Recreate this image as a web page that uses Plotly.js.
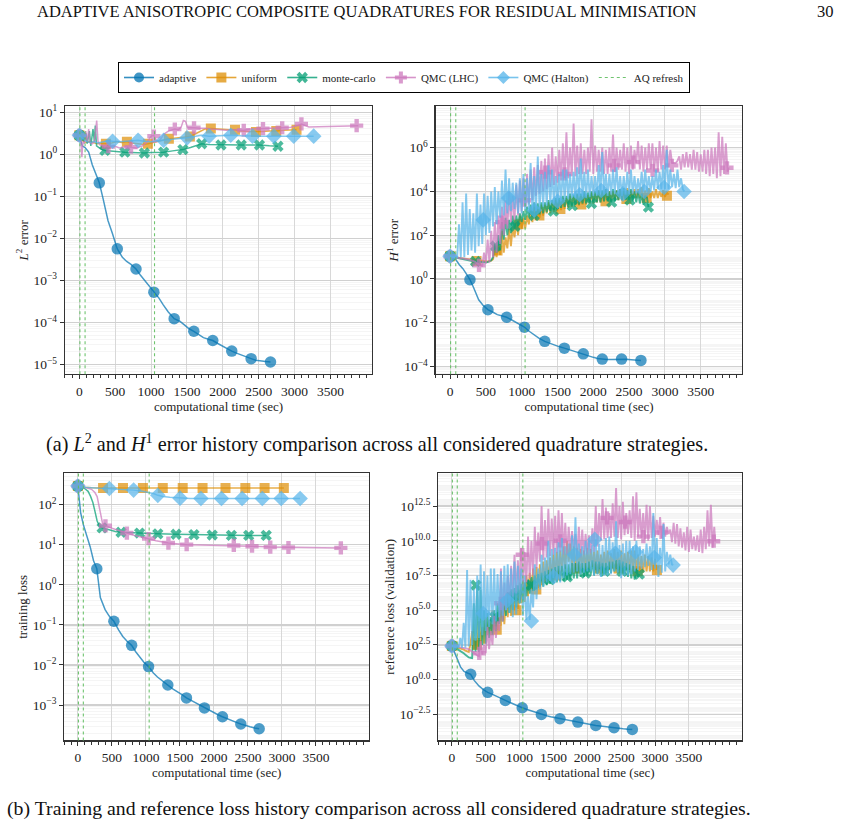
<!DOCTYPE html>
<html><head><meta charset="utf-8">
<script src="https://cdn.plot.ly/plotly-3.0.1.min.js"></script>
<style>html,body{margin:0;padding:0;background:#fff}#chart{width:846px;height:828px}</style>
</head><body><div id="chart"></div>
<script>
// ================= DATA (values stored as log10 of the plotted quantity) =================
const seriesNames = ['adaptive', 'uniform', 'monte-carlo', 'QMC (LHC)', 'QMC (Halton)'];
const refreshName = 'AQ refresh';
const refreshTimes = [8, 80, 1048];
const xTickVals = [0, 500, 1000, 1500, 2000, 2500, 3000, 3500];

// ---- adaptive (same time stamps in all four panels) ----
const tAdaptive = [0,40,80,130,180,230,278,330,400,460,529,600,660,720,790,850,910,970,1039,1110,1170,1240,1322,1400,1460,1530,1596,1660,1730,1800,1860,1930,2000,2060,2125,2190,2260,2330,2395,2460,2530,2600,2665];
const adaptiveMarkIdx = [0,6,10,14,18,22,26,30,34,38,42];
const l2Adaptive = [0.45,0.2,0.16,0.05,-0.25,-0.45,-0.68,-1.05,-1.58,-1.88,-2.25,-2.45,-2.55,-2.62,-2.73,-2.87,-3.0,-3.13,-3.28,-3.42,-3.58,-3.75,-3.91,-3.97,-4.05,-4.15,-4.21,-4.28,-4.36,-4.4,-4.43,-4.5,-4.57,-4.62,-4.68,-4.73,-4.78,-4.82,-4.86,-4.9,-4.92,-4.93,-4.94];
const h1Adaptive = [1.04,0.97,0.89,0.65,0.47,0.22,-0.03,-0.4,-0.95,-1.2,-1.4,-1.52,-1.63,-1.68,-1.75,-1.85,-1.97,-2.08,-2.2,-2.4,-2.55,-2.7,-2.85,-2.95,-3.02,-3.1,-3.16,-3.23,-3.31,-3.38,-3.42,-3.5,-3.58,-3.63,-3.66,-3.68,-3.68,-3.67,-3.66,-3.67,-3.69,-3.71,-3.72];
const trAdaptive = [2.46,1.8,1.5,1.25,0.95,0.6,0.4,-0.32,-0.62,-0.78,-0.91,-1.13,-1.29,-1.4,-1.51,-1.67,-1.8,-1.93,-2.04,-2.2,-2.3,-2.4,-2.5,-2.6,-2.66,-2.74,-2.82,-2.88,-2.95,-3.01,-3.07,-3.13,-3.19,-3.24,-3.29,-3.34,-3.39,-3.43,-3.47,-3.51,-3.54,-3.57,-3.59];
const refAdaptive = [2.43,2.0,1.5,0.9,0.6,0.48,0.39,-0.05,-0.45,-0.7,-0.91,-1.06,-1.18,-1.33,-1.49,-1.62,-1.76,-1.88,-2.02,-2.14,-2.24,-2.37,-2.5,-2.6,-2.67,-2.74,-2.81,-2.87,-2.94,-3.0,-3.05,-3.11,-3.18,-3.23,-3.29,-3.33,-3.38,-3.42,-3.46,-3.49,-3.53,-3.56,-3.58];

// ---- marker time stamps of the other strategies ----
const mtUniform = [0,370,663,956,1248,1541,1833,2170,2462,2745,3028];
const mtMC      = [0,356,634,907,1175,1443,1706,1975,2257,2511,2769];
const mtLHC     = [0,405,720,1039,1331,1599,2292,2560,2828,3096,3866];
const mtHalton  = [0,463,819,1175,1502,1809,2111,2414,2711,2989,3267];

// ---- L2 error panel ----
const l2UniformT = [0,30,60,100,150,200,250,300,370,450,520,590,663,730,800,880,956,1030,1100,1170,1248,1320,1400,1470,1541,1600,1680,1750,1833,1900,2000,2100,2170,2250,2350,2462,2550,2650,2745,2850,2950,3028];
const l2UniformV = [0.45,0.35,0.3,0.28,0.3,0.27,0.25,0.26,0.25,0.27,0.3,0.28,0.3,0.27,0.25,0.24,0.25,0.28,0.3,0.34,0.37,0.38,0.4,0.41,0.42,0.47,0.55,0.6,0.61,0.6,0.59,0.58,0.58,0.55,0.54,0.53,0.54,0.55,0.55,0.57,0.58,0.58];
const l2UniformM = [0.45,0.25,0.3,0.25,0.37,0.42,0.61,0.58,0.53,0.55,0.58];
const l2MCT = [0,40,70,90,110,140,160,190,210,222,240,270,300,356,450,550,634,750,907,1000,1100,1175,1300,1443,1550,1650,1706,1800,1975,2100,2257,2400,2511,2650,2769];
const l2MCV = [0.45,0.4,0.3,0.5,0.25,0.55,0.2,0.6,0.3,0.68,0.2,0.15,0.12,0.09,0.07,0.06,0.05,0.04,0.03,0.04,0.045,0.05,0.08,0.11,0.16,0.22,0.25,0.23,0.22,0.22,0.22,0.22,0.22,0.2,0.19];
const l2MCM = [0.45,0.09,0.05,0.03,0.05,0.11,0.25,0.22,0.22,0.22,0.19];
const l2LHCT = [0,20,35,50,70,90,110,130,150,180,210,242,260,290,330,405,480,560,640,720,800,880,950,1000,1039,1080,1130,1180,1240,1290,1331,1380,1420,1450,1480,1510,1560,1599,1680,1760,1840,1950,2050,2150,2292,2400,2560,2700,2828,2950,3040,3096,3200,3400,3600,3866,3890];
const l2LHCV = [0.45,0.3,-0.07,0.3,0.25,0.55,0.3,0.6,0.28,0.25,0.3,0.8,0.3,0.22,0.2,0.18,0.2,0.15,0.18,0.17,0.15,0.2,0.3,0.43,0.45,0.3,0.35,0.48,0.55,0.58,0.6,0.58,0.65,0.8,0.78,0.63,0.64,0.63,0.62,0.62,0.6,0.58,0.57,0.58,0.57,0.6,0.61,0.62,0.63,0.64,0.68,0.72,0.65,0.66,0.67,0.68,0.68];
const l2LHCM = [0.45,0.18,0.17,0.43,0.6,0.63,0.57,0.61,0.63,0.72,0.68];
const l2HaltonT = [0,30,60,100,150,200,260,330,400,463,550,650,750,819,900,1000,1100,1175,1260,1350,1420,1502,1600,1700,1809,1900,2000,2111,2250,2414,2550,2711,2850,2989,3100,3267];
const l2HaltonV = [0.45,0.4,0.35,0.3,0.28,0.3,0.27,0.3,0.32,0.31,0.3,0.31,0.32,0.33,0.31,0.3,0.32,0.33,0.35,0.37,0.38,0.39,0.42,0.45,0.43,0.44,0.45,0.45,0.44,0.43,0.43,0.43,0.43,0.43,0.43,0.43];
const l2HaltonM = [0.45,0.31,0.33,0.33,0.39,0.43,0.45,0.43,0.43,0.43,0.43];

// ---- noisy histories (H1 error and reference loss share the 25 s time stamps) ----
const tGrid = [0,25,50,75,100,125,150,175,200,225,250,275,300,325,350,375,400,425,450,475,500,525,550,575,600,625,650,675,700,725,750,775,800,825,850,875,900,925,950,975,1000,1025,1050,1075,1100,1125,1150,1175,1200,1225,1250,1275,1300,1325,1350,1375,1400,1425,1450,1475,1500,1525,1550,1575,1600,1625,1650,1675,1700,1725,1750,1775,1800,1825,1850,1875,1900,1925,1950,1975,2000,2025,2050,2075,2100,2125,2150,2175,2200,2225,2250,2275,2300,2325,2350,2375,2400,2425,2450,2475,2500,2525,2550,2575,2600,2625,2650,2675,2700,2725,2750,2775,2800,2825,2850,2875,2900,2925,2950,2975,3000,3025,3050,3075,3100,3125,3150,3175,3200,3225,3250,3275,3300,3325,3350,3375,3400,3425,3450,3475,3500,3525,3550,3575,3600,3625,3650,3675,3700,3725,3750,3775,3800,3825,3850,3875];
const tUniformN = tGrid.slice(0, 123);                 // 0 … 3050
const tMCN      = tGrid.slice(0, 111).concat([2770]);  // 0 … 2750, 2770
const tLHCN     = tGrid.slice(0, 156).concat([3890]);  // 0 … 3875, 3890
const tHaltonN  = tGrid.slice(0, 131).concat([3270]);  // 0 … 3250, 3270

const h1UniformV = [
 1.04,1.02,1.0,0.99, 0.98,0.96,0.95,0.94, 0.93,0.91,0.9,0.89, 0.88,0.86,0.85,0.84, 0.82,0.81,0.8,0.8,
 0.8,0.8,0.82,0.84, 0.9,1.3,1.0,1.6, 1.1,2.2,1.2,1.9, 1.4,2.3,1.5,2.4, 1.9,2.6,2.0,2.9,
 2.3,2.8,2.3,2.9, 2.5,3.1,2.6,3.3, 2.7,3.2,2.8,3.4, 2.9,3.4,3.0,3.5, 3.0,3.5,3.05,3.6,
 3.1,3.6,3.15,3.7, 3.2,3.7,3.25,3.8, 3.3,3.75,3.3,3.85, 3.35,3.8,3.4,3.9, 3.4,3.85,3.45,3.95,
 3.45,3.9,3.5,4.05, 3.5,3.95,3.55,4.1, 3.55,4.0,3.55,4.0, 3.6,4.05,3.6,4.1, 3.6,4.0,3.65,4.15,
 3.65,4.05,3.7,4.1, 3.7,4.1,3.7,4.2, 3.65,4.05,3.7,4.15, 3.7,4.0,3.7,4.1, 3.7,4.0,3.75,4.05,
 3.75,3.95,3.85];
const h1MCV = [
 1.04,1.02,1.0,0.98, 0.97,0.96,0.94,0.92, 0.9,0.88,0.86,0.84, 0.82,0.81,0.8,0.79, 0.78,0.77,0.76,0.76,
 0.76,0.77,0.8,0.85, 1.0,1.6,1.2,2.0, 1.3,2.6,1.8,2.8, 2.0,2.7,2.1,2.9, 2.3,2.9,2.4,3.0,
 2.6,3.1,2.7,3.3, 2.8,3.4,2.85,3.5, 2.9,3.45,2.95,3.5, 3.0,3.5,3.05,3.6, 3.1,3.6,3.15,3.7,
 3.2,3.7,3.25,3.8, 3.3,3.8,3.3,3.9, 3.35,3.85,3.4,3.9, 3.4,3.9,3.45,4.0, 3.45,3.95,3.5,4.0,
 3.5,4.0,3.5,4.05, 3.5,4.05,3.55,4.1, 3.55,4.0,3.5,4.1, 3.55,4.05,3.6,4.1, 3.6,4.15,3.6,4.05,
 3.6,4.1,3.55,4.0, 3.5,4.0,3.45,3.9, 3.4,3.8,3.7, 3.28];
const h1LHCV = [
 1.04,1.02,1.0,0.99, 0.97,0.96,0.95,0.94, 0.93,0.92,0.9,0.88, 0.85,0.82,0.78,0.72, 0.65,0.62,0.6,1.2,
 0.7,1.8,0.75,2.2, 1.0,2.6,1.2,2.9, 1.6,3.3,2.0,3.6, 2.3,4.0,2.6,3.8, 2.7,4.3,2.9,4.5,
 3.1,4.6,3.3,4.8, 3.4,5.0,3.6,5.1, 3.8,5.2,3.9,5.4, 4.0,5.5,4.1,5.7, 4.2,6.0,4.3,5.6,
 4.4,5.9,4.5,6.2, 4.6,6.7,4.6,6.0, 4.7,7.1,4.7,6.1, 4.8,6.2,4.8,5.9, 4.8,6.0,4.9,7.3,
 4.8,6.1,4.9,5.9, 4.9,6.0,4.8,5.9, 4.8,6.0,4.9,6.6, 4.9,6.0,5.0,5.9, 5.0,6.2,4.9,6.0,
 4.8,6.1,5.0,5.9, 5.3,6.3,5.0,6.1, 4.9,6.0,5.0,6.2, 5.0,6.2,4.9,6.0, 4.9,6.3,5.0,6.1,
 5.0,6.1,5.1,5.9, 5.3,5.3,5.3,5.4, 5.6,5.0,5.7,5.1, 5.8,5.1,5.7,5.0, 5.9,5.0,5.8,4.9,
 5.7,4.9,5.9,4.8, 5.9,4.7,6.0,4.8, 6.0,4.6,6.7,4.7, 6.5,4.8,6.2,4.9, 5.1];
const h1HaltonV = [
 1.04,1.02,1.0,0.99, 0.98,2.5,1.0,3.5, 1.0,3.9,1.1,3.2, 1.3,3.0,1.2,3.9, 1.5,3.4,1.6,3.9,
 2.0,3.8,2.1,4.0, 2.4,4.2,2.5,4.0, 2.8,4.5,2.9,5.0, 3.0,4.6,3.1,4.4, 3.2,4.4,3.0,4.6,
 3.0,4.8,3.1,4.6, 3.2,5.3,3.1,4.7, 3.1,5.6,3.2,4.8, 3.3,4.9,3.35,5.2, 3.4,5.0,3.45,4.7,
 3.5,4.8,3.55,5.0, 3.6,5.0,3.65,4.8, 3.7,4.9,3.7,5.1, 3.8,5.5,3.8,4.9, 3.7,5.0,3.75,4.7,
 3.8,4.7,3.8,5.2, 3.9,5.8,3.85,4.8, 3.8,4.8,3.85,5.0, 3.9,5.1,3.9,4.7, 3.8,4.7,3.85,4.9,
 3.9,5.0,3.9,4.7, 3.9,4.6,3.95,4.9, 4.0,5.0,4.0,4.7, 4.0,4.7,4.05,5.0, 4.1,4.9,4.1,5.2,
 4.1,5.9,4.1,5.0, 4.2,4.8,4.15,5.0, 4.2,4.6,4.1, 4.0];
const h1UniformM = [1.04,0.82,1.3,2.5,2.9,3.2,3.4,3.55,3.65,3.7,3.8];
const h1MCM = [1.04,0.8,1.5,2.4,2.9,3.1,3.35,3.45,3.51,3.6,3.28];
const h1LHCM = [1.04,0.62,2.6,3.6,4.88,4.8,5.19,5.34,4.96,5.19,5.08];
const h1HaltonM = [1.04,2.7,3.7,3.14,3.55,3.85,4.04,3.89,4.0,4.18,4.0];

const refUniformV = [
 2.43,2.4,2.35,2.33, 2.3,2.27,2.2,2.17, 2.1,2.05,2.0,2.6, 3.5,2.2,3.0,2.2, 4.2,2.6,3.8,2.6,
 4.5,3.2,4.3,3.2, 5.0,3.6,4.8,3.6, 5.2,3.9,5.5,4.0, 6.0,4.5,6.2,4.6, 6.5,5.0,6.8,5.1,
 7.0,5.5,7.2,5.6, 7.5,6.0,7.7,6.2, 8.0,6.5,8.1,6.6, 8.3,6.8,8.5,7.0, 8.6,7.2,8.8,7.3,
 9.0,7.5,9.2,7.6, 9.3,7.8,9.6,8.0, 10.0,8.5,9.8,8.2, 9.6,7.9,9.5,8.0, 9.4,8.0,9.3,7.9,
 9.5,8.0,9.4,8.1, 9.2,7.9,9.3,8.0, 9.0,8.1,9.2,7.9, 9.3,7.9,9.1,8.0, 9.4,8.0,9.2,7.9,
 9.3,7.8,9.1,7.9, 9.2,7.9,9.3,7.8, 9.3,7.8,9.0,7.8, 8.9,7.7,9.0,7.8, 8.9,7.8,8.8,7.8,
 8.7,7.9,8.2];
const refMCV = [
 2.43,2.38,2.3,2.22, 2.15,2.08,2.0,1.9, 1.8,1.7,1.6,1.58, 1.55,5.5,2.0,6.8, 2.0,6.5,2.5,5.0,
 2.6,4.8,3.0,4.5, 3.2,5.0,3.5,5.5, 4.0,5.8,4.2,6.0, 4.6,6.3,4.8,6.5, 5.0,6.6,5.2,6.8,
 5.5,6.9,5.7,7.0, 6.0,7.2,6.2,7.4, 6.4,7.5,6.5,7.6, 6.7,7.7,6.7,7.8, 6.8,7.9,6.9,8.0,
 7.0,8.1,7.0,8.2, 7.1,8.2,7.1,8.3, 7.2,8.3,7.2,8.4, 7.3,8.4,7.3,8.5, 7.4,8.4,7.4,8.4,
 7.5,8.5,7.5,8.6, 7.5,8.5,7.6,8.5, 7.6,8.4,7.6,8.4, 7.7,8.5,7.7,8.5, 7.8,8.6,7.7,8.6,
 7.7,8.5,7.6,8.4, 7.4,8.3,7.3,8.2, 7.2,8.0,7.4, 7.6];
const refLHCV = [
 2.43,2.42,2.4,2.38, 2.35,2.33,2.3,2.28, 2.25,2.22,2.2,2.1, 2.0,1.9,1.8,1.75, 1.7,2.8,1.8,2.5,
 1.9,3.8,2.2,3.5, 2.5,4.6,3.0,4.2, 3.5,8.0,4.2,7.0, 5.0,7.5,5.5,8.2, 6.0,9.0,6.2,8.6,
 6.5,9.5,6.8,9.2, 7.0,10.3,7.3,10.0, 7.5,11.0,8.0,10.6, 8.5,12.5,8.6,11.5, 8.8,12.3,8.9,11.6,
 9.0,11.8,9.1,12.2, 9.2,12.0,9.0,11.3, 9.0,11.0,9.3,10.7, 9.5,10.5,8.9,11.0, 8.8,10.8,9.0,10.5,
 9.0,10.4,9.1,10.9, 9.2,12.5,9.6,12.0, 10.0,13.0,10.1,12.4, 10.2,12.0,10.2,12.7, 10.3,13.8,10.2,12.5,
 10.1,12.8,10.4,12.0, 10.5,12.2,10.2,13.2, 10.0,13.5,10.3,12.3, 10.2,12.0,10.1,12.6, 10.0,12.5,10.2,11.8,
 10.3,11.5,10.4,11.7, 10.2,11.3,10.3,11.0, 10.5,10.8,9.9,11.3, 9.8,11.2,9.6,10.9, 9.5,10.6,9.3,11.0,
 9.2,10.8,9.4,10.3, 9.3,10.4,9.2,10.8, 9.1,11.0,9.4,12.2, 9.6,12.6,9.5,11.0, 9.95];
const refHaltonV = [
 2.43,2.42,2.4,2.38, 2.35,3.0,2.3,4.1, 2.3,7.9,2.4,7.2, 2.5,6.5,2.8,7.5, 3.0,8.3,3.2,7.8,
 3.5,7.5,3.8,8.0, 4.0,8.0,4.2,7.6, 4.5,7.8,4.6,8.2, 5.0,8.3,4.8,8.0, 4.5,8.5,4.7,8.2,
 5.5,8.0,4.6,7.5, 4.3,6.0,4.3,6.5, 5.2,8.3,5.8,8.0, 6.5,9.0,6.7,8.8, 7.0,10.0,7.1,9.4,
 7.3,9.5,7.2,9.9, 7.0,10.2,7.3,9.6, 7.5,9.8,7.6,10.4, 7.7,11.7,7.8,9.8, 7.6,9.6,7.7,10.0,
 7.8,10.0,7.8,9.7, 7.5,10.1,7.6,9.8, 7.4,9.7,7.5,10.2, 7.5,10.3,7.6,9.9, 7.8,11.4,7.7,9.7,
 7.3,9.8,7.5,10.0, 7.5,10.0,7.6,9.6, 7.8,10.0,7.9,9.6, 8.0,9.4,8.1,9.8, 8.2,9.6,7.9,12.0,
 8.0,10.2,7.4,9.5, 7.7,11.2,7.8,9.2, 8.3,9.0,8.3, 8.27];
const refUniformM = [2.43,2.5,3.6,5.0,6.5,7.5,8.0,8.0,8.0,7.8,7.9];
const refMCM = [2.43,6.8,4.5,6.0,6.8,7.2,7.4,7.67,7.8,7.8,7.6];
const refLHCM = [2.43,1.9,5.5,9.0,9.8,10.0,11.65,11.35,10.3,10.6,9.97];
const refHaltonM = [2.43,4.76,5.7,4.23,7.4,9.0,10.1,9.1,9.2,8.8,8.25];

// ---- training loss panel ----
const trUniformT = [0,100,200,370,663,956,1248,1541,1833,2170,2462,2745,3028];
const trUniformV = [2.46,2.43,2.42,2.41,2.41,2.41,2.41,2.41,2.41,2.41,2.41,2.41,2.41];
const trUniformM = [2.46,2.41,2.41,2.41,2.41,2.41,2.41,2.41,2.41,2.41,2.41];
const trMCT = [0,50,100,150,185,220,244,265,283,310,332,356,450,550,634,750,907,1175,1443,1706,1975,2257,2511,2769];
const trMCV = [2.46,2.44,2.4,2.33,2.21,2.05,1.88,1.72,1.59,1.49,1.44,1.42,1.37,1.33,1.31,1.3,1.29,1.27,1.26,1.25,1.24,1.23,1.23,1.23];
const trMCM = [2.46,1.42,1.31,1.29,1.27,1.26,1.25,1.24,1.23,1.23,1.23];
const trLHCT = [0,100,200,250,283,300,320,341,360,380,405,500,600,720,850,1039,1150,1331,1450,1599,1800,2000,2292,2560,2828,3096,3400,3866];
const trLHCV = [2.46,2.43,2.38,2.3,2.2,2.05,1.85,1.63,1.55,1.5,1.47,1.41,1.35,1.29,1.22,1.15,1.1,1.04,1.02,1.0,0.99,0.985,0.98,0.96,0.94,0.93,0.925,0.92];
const trLHCM = [2.46,1.47,1.29,1.15,1.04,1.0,0.98,0.96,0.94,0.93,0.92];
const trHaltonT = [0,100,200,300,463,600,700,819,950,1050,1120,1175,1250,1350,1502,1650,1809,2111,2414,2711,2989,3267];
const trHaltonV = [2.46,2.43,2.42,2.41,2.4,2.39,2.38,2.36,2.33,2.3,2.27,2.23,2.2,2.18,2.16,2.15,2.15,2.15,2.15,2.15,2.15,2.15];
const trHaltonM = [2.46,2.4,2.36,2.23,2.16,2.15,2.15,2.15,2.15,2.15,2.15];

// ---- tick labels ----
const l2TickExp = [-5,-4,-3,-2,-1,0,1];
const h1TickExp = [-4,-2,0,2,4,6];
const trTickExp = [-3,-2,-1,0,1,2];
const refTickExp = [-2.5,0,2.5,5,7.5,10,12.5];
const refTickLabel = ['−2.5','0.0','2.5','5.0','7.5','10.0','12.5'];

// ================= STYLE / BUILD =================
const FONT = 'Liberation Serif, Times New Roman, serif';
const pow10 = a => a.map(e => Math.pow(10, e));
const COL = ['1,115,178', '222,143,5', '2,158,115', '204,120,188', '86,180,233'];
const SYM = ['circle', 'square', 'x', 'cross', 'diamond'];
const MSZ = [11.5, 10, 10, 11, 12];
const REFRESH_COL = 'rgba(95,190,95,0.9)';

function lineTrace(t, v, k, xa, ya, w) {
  return {x: t, y: pow10(v), mode: 'lines', xaxis: xa, yaxis: ya, showlegend: false, hoverinfo: 'skip',
    line: {color: 'rgba(' + COL[k] + ',0.72)', width: w}};
}
function markTrace(t, v, k, xa, ya) {
  return {x: t, y: pow10(v), mode: 'markers', xaxis: xa, yaxis: ya, showlegend: false, hoverinfo: 'skip',
    marker: {symbol: SYM[k], size: MSZ[k], color: 'rgb(' + COL[k] + ')', opacity: 0.7, line: {width: 0}}};
}
function adaptivePair(v, xa, ya) {
  return [lineTrace(tAdaptive, v, 0, xa, ya, 1.5),
          markTrace(adaptiveMarkIdx.map(i => tAdaptive[i]), adaptiveMarkIdx.map(i => v[i]), 0, xa, ya)];
}

const panels = [
  {xa: 'x', ya: 'y', w: 1.5, adaptive: l2Adaptive, others: [
    [l2UniformT, l2UniformV, mtUniform, l2UniformM], [l2MCT, l2MCV, mtMC, l2MCM],
    [l2LHCT, l2LHCV, mtLHC, l2LHCM], [l2HaltonT, l2HaltonV, mtHalton, l2HaltonM]]},
  {xa: 'x2', ya: 'y2', w: 1.9, adaptive: h1Adaptive, others: [
    [tUniformN, h1UniformV, mtUniform, h1UniformM], [tMCN, h1MCV, mtMC, h1MCM],
    [tLHCN, h1LHCV, mtLHC, h1LHCM], [tHaltonN, h1HaltonV, mtHalton, h1HaltonM]]},
  {xa: 'x3', ya: 'y3', w: 1.5, adaptive: trAdaptive, others: [
    [trUniformT, trUniformV, mtUniform, trUniformM], [trMCT, trMCV, mtMC, trMCM],
    [trLHCT, trLHCV, mtLHC, trLHCM], [trHaltonT, trHaltonV, mtHalton, trHaltonM]]},
  {xa: 'x4', ya: 'y4', w: 1.9, adaptive: refAdaptive, others: [
    [tUniformN, refUniformV, mtUniform, refUniformM], [tMCN, refMCV, mtMC, refMCM],
    [tLHCN, refLHCV, mtLHC, refLHCM], [tHaltonN, refHaltonV, mtHalton, refHaltonM]]}
];

const traces = [];
panels.forEach(p => {
  traces.push(...adaptivePair(p.adaptive, p.xa, p.ya));
  p.others.forEach((s, j) => {
    traces.push(lineTrace(s[0], s[1], j + 1, p.xa, p.ya, p.w));
    traces.push(markTrace(s[2], s[3], j + 1, p.xa, p.ya));
  });
});
// legend entries
seriesNames.forEach((name, k) => {
  traces.push({x: [null], y: [null], name: name, mode: 'lines+markers', xaxis: 'x', yaxis: 'y', showlegend: true,
    line: {color: 'rgba(' + COL[k] + ',0.8)', width: 1.6},
    marker: {symbol: SYM[k], size: 10, color: 'rgb(' + COL[k] + ')', opacity: 0.75, line: {width: 0}}});
});
traces.push({x: [null], y: [null], name: refreshName, mode: 'lines', xaxis: 'x', yaxis: 'y', showlegend: true,
  line: {color: REFRESH_COL, width: 1.2, dash: 'dot'}});

const tickFont = {family: FONT, size: 13.5, color: '#222'};
const titleFont = {family: FONT, size: 13, color: '#222'};
const supLabel = e => '10<sup>' + (e < 0 ? '−' + (-e) : e) + '</sup>';

function xAxis(domain, range, anchor) {
  return {domain: domain, range: range, anchor: anchor, tickmode: 'array', tickvals: xTickVals,
    ticktext: xTickVals.map(String), ticks: 'outside', ticklen: 4, tickwidth: 1, tickcolor: '#333',
    showline: true, mirror: true, linecolor: '#333', linewidth: 1.2, showgrid: true, gridcolor: '#d8d8d8',
    gridwidth: 1, zeroline: false, tickfont: tickFont,
    minor: {tickmode: 'linear', tick0: 0, dtick: 100, ticks: 'outside', ticklen: 3, tickwidth: 1, tickcolor: '#333', showgrid: false},
    title: {text: 'computational time (sec)', font: titleFont, standoff: 1}};
}
function yAxis(domain, range, anchor, exps, labels, title) {
  return {type: 'log', domain: domain, range: range, anchor: anchor, tickmode: 'array',
    tickvals: exps.map(e => Math.pow(10, e)), ticktext: labels, ticks: 'outside', ticklen: 4, tickwidth: 1,
    tickcolor: '#333', showline: true, mirror: true, linecolor: '#333', linewidth: 1.2, showgrid: true,
    gridcolor: '#d0d0d0', gridwidth: 1.3, zeroline: false, tickfont: tickFont,
    minor: {dtick: 'D1', showgrid: true, gridcolor: '#f3f3f3', gridwidth: 0.8, ticks: ''},
    title: {text: title, font: titleFont, standoff: 2}};
}

const yTop = [0.54807, 0.87162], yBot = [0.1058, 0.4284];
const layout = {
  width: 846, height: 828, margin: {l: 0, r: 0, t: 0, b: 0}, paper_bgcolor: '#fff', plot_bgcolor: '#fff',
  font: {family: FONT, color: '#222'}, showlegend: true,
  xaxis: xAxis([0.07683, 0.43972], [-200, 4080], 'y'),
  yaxis: yAxis(yTop, [-5.23, 1.14], 'x', l2TickExp, l2TickExp.map(supLabel), '<i>L</i><sup>2</sup> error'),
  xaxis2: xAxis([0.51501, 0.87742], [-200, 4080], 'y2'),
  yaxis2: yAxis(yTop, [-4.35, 7.89], 'x2', h1TickExp, h1TickExp.map(supLabel), '<i>H</i><sup>1</sup> error'),
  xaxis3: xAxis([0.07600, 0.43617], [-200, 4280], 'y3'),
  yaxis3: yAxis(yBot, [-3.88, 2.78], 'x3', trTickExp, trTickExp.map(supLabel), 'training loss'),
  xaxis4: xAxis([0.51809, 0.87671], [-200, 4280], 'y4'),
  yaxis4: yAxis(yBot, [-4.37, 14.86], 'x4', refTickExp, refTickLabel.map(s => '10<sup>' + s + '</sup>'), 'reference loss (validation)'),
  legend: {orientation: 'h', x: 404 / 846, xanchor: 'center', y: 1 - 62 / 828, yanchor: 'top',
    bgcolor: '#fff', bordercolor: '#000', borderwidth: 1, font: {family: FONT, size: 11, color: '#222'},
    traceorder: 'normal'},
  shapes: [],
  annotations: [
    {text: 'ADAPTIVE ANISOTROPIC COMPOSITE QUADRATURES FOR RESIDUAL MINIMISATION', xref: 'paper', yref: 'paper',
      x: 35 / 846, y: 1 - 12 / 828, xanchor: 'left', yanchor: 'middle', showarrow: false, font: {family: FONT, size: 16.5, color: '#111'}},
    {text: '30', xref: 'paper', yref: 'paper', x: 836 / 846, y: 1 - 12 / 828, xanchor: 'right', yanchor: 'middle',
      showarrow: false, font: {family: FONT, size: 16.5, color: '#111'}},
    {text: '(a) <i>L</i><sup>2</sup> and <i>H</i><sup>1</sup> error history comparison across all considered quadrature strategies.',
      xref: 'paper', yref: 'paper', x: 44 / 846, y: 1 - 443 / 828, xanchor: 'left', yanchor: 'middle', showarrow: false,
      font: {family: FONT, size: 20.2, color: '#111'}},
    {text: '(b) Training and reference loss history comparison across all considered quadrature strategies.',
      xref: 'paper', yref: 'paper', x: 5 / 846, y: 1 - 808 / 828, xanchor: 'left', yanchor: 'middle', showarrow: false,
      font: {family: FONT, size: 19.8, color: '#111'}}
  ]
};
['x', 'x2', 'x3', 'x4'].forEach(xa => {
  refreshTimes.forEach(t => {
    layout.shapes.push({type: 'line', xref: xa, x0: t, x1: t, yref: (xa === 'x' ? 'y' : 'y' + xa.slice(1)) + ' domain',
      y0: 0, y1: 1, line: {color: REFRESH_COL, width: 1.1, dash: 'dot'}, layer: 'above'});
  });
});

Plotly.newPlot('chart', traces, layout, {staticPlot: true, displayModeBar: false});
</script></body></html>
